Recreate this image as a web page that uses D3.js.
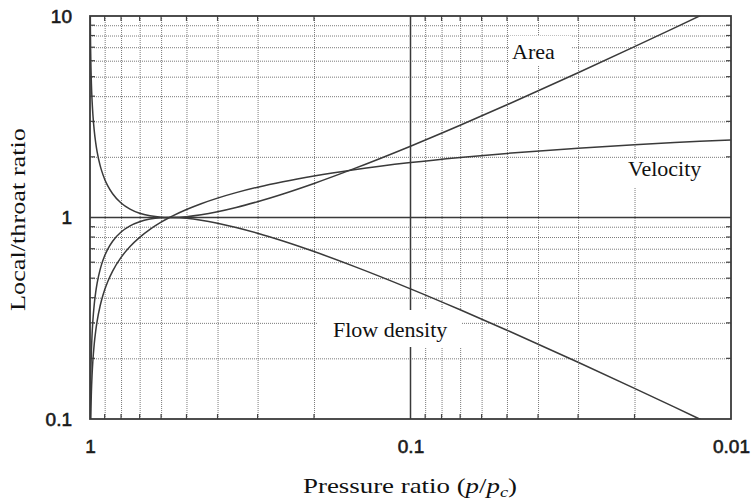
<!DOCTYPE html>
<html>
<head>
<meta charset="utf-8">
<script src="https://cdn.jsdelivr.net/npm/d3@7"></script>
<style>
  html, body { margin: 0; padding: 0; background: #fff; }
  svg { display: block; }
  .grid line { stroke: #7a7a7a; stroke-width: 1; stroke-dasharray: 1,1; }
  .grid path { display: none; }
  .tick-labels path, .tick-labels line { display: none; }
  .tick-labels text { font-family: "Liberation Sans", Arial, sans-serif; font-size: 19px; fill: #1a1a1a; stroke: #1a1a1a; stroke-width: 0.6px; }
  .serif { font-family: "Liberation Serif", "Times New Roman", serif; fill: #111; }
</style>
</head>
<body>
<svg id="chart" width="751" height="501"></svg>
<script>
// Pressure ratio p/pc along the nozzle, with the local/throat ratios read at each point
const pressureRatio = [0.999, 0.997, 0.995, 0.99, 0.985, 0.98, 0.97, 0.96, 0.95, 0.93, 0.92, 0.9, 0.88, 0.85,
  0.8, 0.75, 0.7, 0.65, 0.6, 0.565, 0.55, 0.5, 0.45, 0.4, 0.35, 0.3, 0.25, 0.2, 0.15, 0.1,
  0.07, 0.05, 0.03, 0.02, 0.015, 0.0125, 0.01];
const areaRatio = [14.51, 8.388, 6.506, 4.614, 3.780, 3.284, 2.699, 2.352, 2.118, 1.814, 1.708, 1.549, 1.434, 1.311,
  1.180, 1.100, 1.049, 1.019, 1.003, 1.000, 1.0005, 1.010, 1.032, 1.068, 1.121, 1.198, 1.309, 1.476, 1.748, 2.259,
  2.869, 3.625, 5.229, 7.047, 8.736, 10.02, 11.87];
const velocityRatio = [0.0428, 0.0742, 0.0958, 0.1357, 0.1664, 0.1923, 0.2360, 0.2731, 0.3060, 0.3637, 0.3896, 0.4376, 0.4815, 0.5422,
  0.6337, 0.7176, 0.7968, 0.8730, 0.9475, 1.000, 1.0214, 1.0955, 1.1708, 1.2482, 1.3288, 1.4142, 1.5064, 1.6087, 1.7268, 1.8724,
  1.9845, 2.0793, 2.2064, 2.2954, 2.3532, 2.3876, 2.4278];
const flowDensityRatio = [0.0689, 0.1192, 0.1537, 0.2167, 0.2646, 0.3045, 0.3706, 0.4251, 0.4722, 0.5513, 0.5854, 0.6455, 0.6972, 0.7626,
  0.8474, 0.9094, 0.9533, 0.9819, 0.9969, 1.000, 0.9995, 0.9902, 0.9693, 0.9367, 0.8923, 0.8351, 0.7642, 0.6776, 0.5722, 0.4426,
  0.3485, 0.2759, 0.1912, 0.1419, 0.1145, 0.0998, 0.0843];

const seriesNames = ["Area", "Velocity", "Flow density"];

// Axis ticks: labelled decades, solid major lines and dotted minor lines
const xTickLabels = [1, 0.1, 0.01];
const yTickLabels = [0.1, 1, 10];
const xMajor = [0.1];
const yMajor = [1];
const xMinor = [0.9, 0.8, 0.7, 0.6, 0.5, 0.4, 0.3, 0.2, 0.09, 0.08, 0.07, 0.06, 0.05, 0.04, 0.03, 0.02];
const yMinor = [0.2, 0.3, 0.4, 0.5, 0.6, 0.7, 0.8, 0.9, 2, 3, 4, 5, 6, 7, 8, 9];

const svg = d3.select("#chart");
const plotLeft = 90, plotTop = 16, plotRight = 731, plotBottom = 419;
const w = plotRight - plotLeft, h = plotBottom - plotTop;

const x = d3.scaleLog().domain([1, 0.01]).range([plotLeft, plotRight]);
const y = d3.scaleLog().domain([0.1, 10]).range([plotBottom, plotTop]);

// dotted minor grid
svg.append("g").attr("class", "grid")
  .attr("transform", `translate(0,${plotBottom})`)
  .call(d3.axisBottom(x).tickValues(xMinor).tickSize(-h).tickFormat(""));
svg.append("g").attr("class", "grid")
  .attr("transform", `translate(${plotLeft},0)`)
  .call(d3.axisLeft(y).tickValues(yMinor).tickSize(-w).tickFormat(""));

// short solid ticks on the inside of the frame
const tickLen = 5;
const frameTicks = svg.append("g").attr("stroke", "#444").attr("stroke-width", 1.2);
xMinor.forEach(v => {
  frameTicks.append("line").attr("x1", x(v)).attr("x2", x(v)).attr("y1", plotBottom).attr("y2", plotBottom - tickLen);
  frameTicks.append("line").attr("x1", x(v)).attr("x2", x(v)).attr("y1", plotTop).attr("y2", plotTop + tickLen);
});
yMinor.forEach(v => {
  frameTicks.append("line").attr("y1", y(v)).attr("y2", y(v)).attr("x1", plotLeft).attr("x2", plotLeft + tickLen);
  frameTicks.append("line").attr("y1", y(v)).attr("y2", y(v)).attr("x1", plotRight).attr("x2", plotRight - tickLen);
});

// solid major lines
const major = svg.append("g").attr("stroke", "#3a3a3a").attr("stroke-width", 1.5);
xMajor.forEach(v => major.append("line").attr("x1", x(v)).attr("x2", x(v)).attr("y1", plotTop).attr("y2", plotBottom));
yMajor.forEach(v => major.append("line").attr("y1", y(v)).attr("y2", y(v)).attr("x1", plotLeft).attr("x2", plotRight));

// white backing behind the curve names
const labelBoxes = [
  { name: "Area", x0: 509, x1: 572, y0: 36, y1: 66 },
  { name: "Velocity", x0: 624, x1: 706, y0: 159, y1: 188 },
  { name: "Flow density", x0: 318, x1: 462, y0: 310, y1: 347 }
];
svg.append("g").selectAll("rect").data(labelBoxes).join("rect")
  .attr("x", d => d.x0).attr("y", d => d.y0)
  .attr("width", d => d.x1 - d.x0).attr("height", d => d.y1 - d.y0)
  .attr("fill", "#fff");

// curves
svg.append("clipPath").attr("id", "plot-clip")
  .append("rect").attr("x", plotLeft).attr("y", plotTop).attr("width", w).attr("height", h);

const line = d3.line()
  .x(d => x(d[0]))
  .y(d => y(d[1]))
  .curve(d3.curveMonotoneX);

const curves = [areaRatio, velocityRatio, flowDensityRatio];
svg.append("g").attr("clip-path", "url(#plot-clip)")
  .selectAll("path").data(curves).join("path")
  .attr("d", vals => line(pressureRatio.map((p, i) => [p, vals[i]])))
  .attr("fill", "none")
  .attr("stroke", "#3a3a3a")
  .attr("stroke-width", 1.5);

// frame
svg.append("rect").attr("x", plotLeft).attr("y", plotTop).attr("width", w).attr("height", h)
  .attr("fill", "none").attr("stroke", "#3a3a3a").attr("stroke-width", 1.8);

// tick labels
svg.append("g").attr("class", "tick-labels")
  .attr("transform", `translate(0,${plotBottom})`)
  .call(d3.axisBottom(x).tickValues(xTickLabels).tickSize(0).tickPadding(21).tickFormat(d => String(d)));
svg.append("g").attr("class", "tick-labels")
  .attr("transform", `translate(${plotLeft},0)`)
  .call(d3.axisLeft(y).tickValues(yTickLabels).tickSize(0).tickPadding(18).tickFormat(d => String(d)));

// curve names
const labelPos = [
  { x: 512, y: 59 },
  { x: 628, y: 176 },
  { x: 333, y: 337 }
];
svg.append("g").selectAll("text").data(seriesNames).join("text")
  .attr("class", "serif")
  .attr("x", (d, i) => labelPos[i].x)
  .attr("y", (d, i) => labelPos[i].y)
  .attr("font-size", 22)
  .text(d => d);

// axis titles, set in a wide roman face
const xTitle = svg.append("text").attr("class", "serif")
  .attr("x", 303).attr("y", 493).attr("font-size", 22)
  .attr("textLength", 214).attr("lengthAdjust", "spacingAndGlyphs");
xTitle.append("tspan").text("Pressure ratio (");
xTitle.append("tspan").attr("font-style", "italic").text("p");
xTitle.append("tspan").text("/");
xTitle.append("tspan").attr("font-style", "italic").text("p");
xTitle.append("tspan").attr("font-style", "italic").attr("font-size", 15).attr("dy", 4).text("c");
xTitle.append("tspan").attr("dy", -4).text(")");

svg.append("text").attr("class", "serif")
  .attr("transform", "translate(25,311) rotate(-90)")
  .attr("font-size", 22)
  .attr("textLength", 183).attr("lengthAdjust", "spacingAndGlyphs")
  .text("Local/throat ratio");
</script>
</body>
</html>
